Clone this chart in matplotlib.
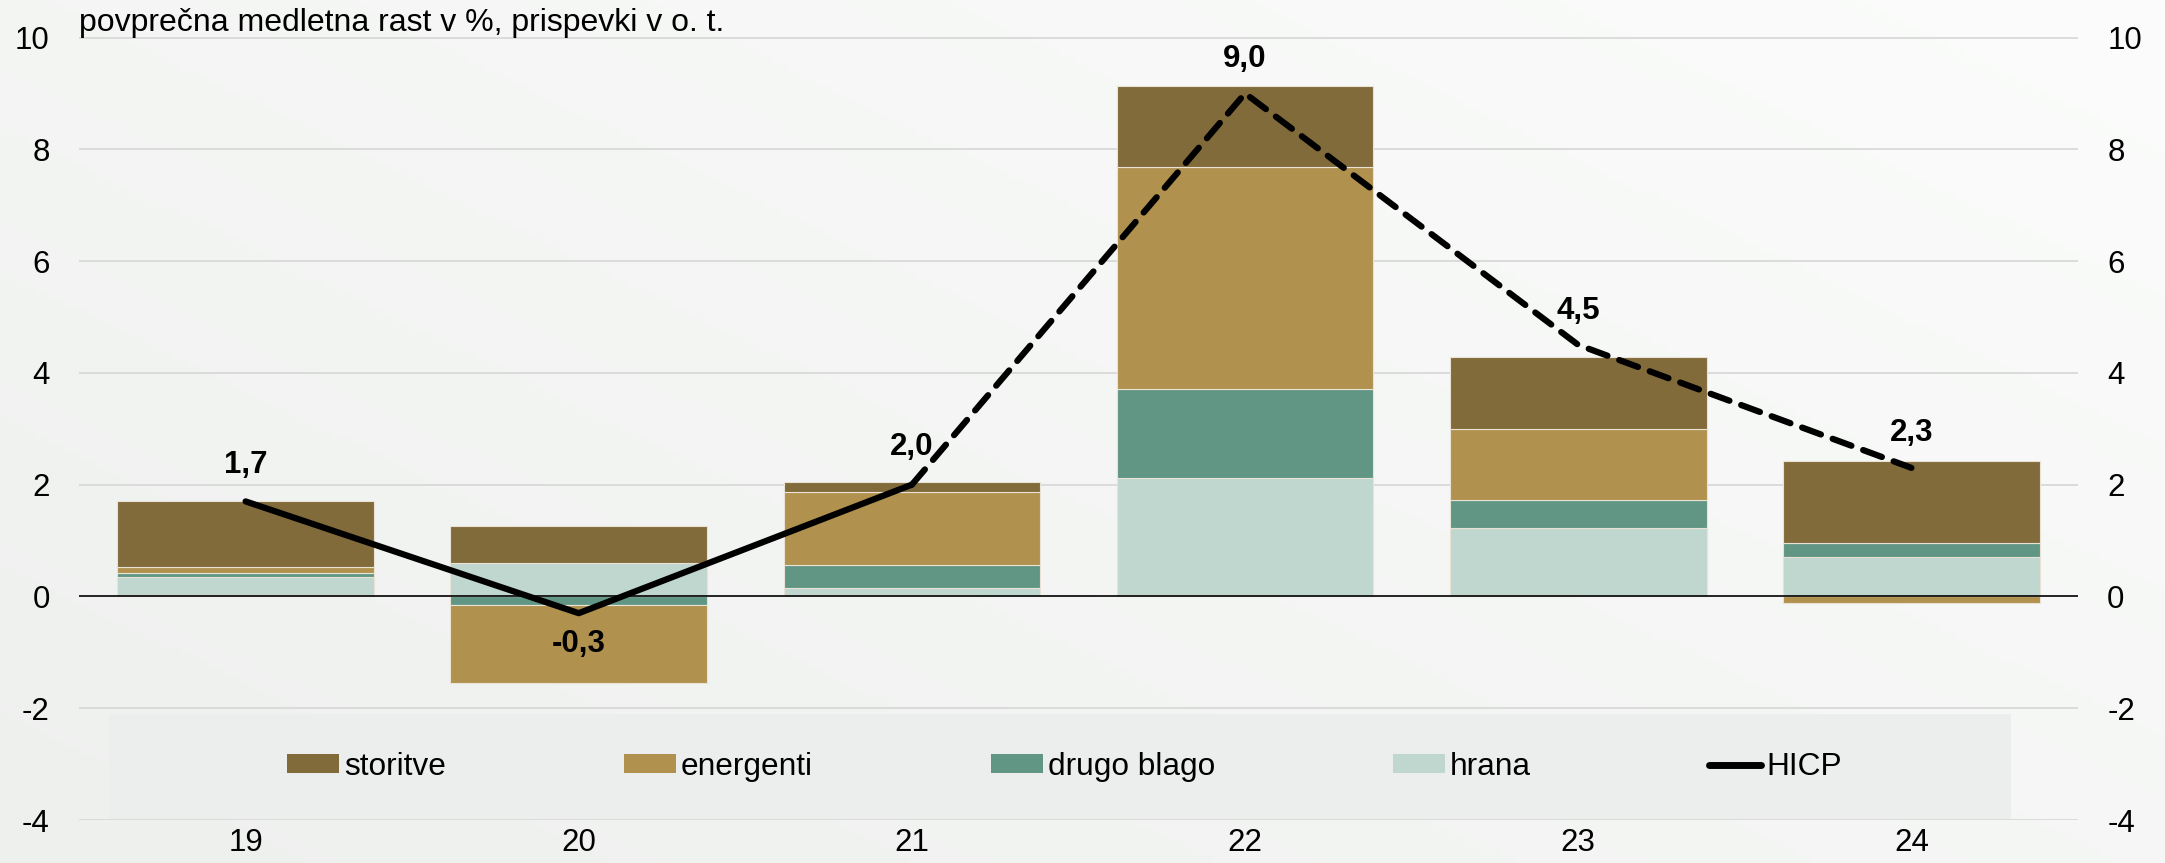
import numpy as np
import matplotlib
matplotlib.use("Agg")
import matplotlib.pyplot as plt
from matplotlib.patches import Rectangle
from matplotlib.lines import Line2D
from matplotlib.patches import Patch

plt.rcParams['font.family'] = ['Liberation Sans', 'DejaVu Sans']

years = ['19', '20', '21', '22', '23', '24']
hrana = [0.35, 0.59, 0.155, 2.11, 1.23, 0.70]
drugo_blago = [0.07, -0.16, 0.41, 1.60, 0.50, 0.255]
energenti = [0.11, -1.39, 1.30, 3.97, 1.26, -0.11]
storitve = [1.17, 0.67, 0.185, 1.45, 1.30, 1.47]
hicp = [1.7, -0.3, 2.0, 9.0, 4.5, 2.3]
hicp_labels = ['1,7', '-0,3', '2,0', '9,0', '4,5', '2,3']
yticks = [-4, -2, 0, 2, 4, 6, 8, 10]

series = [('hrana', hrana, '#bfd7cf'),
          ('drugo blago', drugo_blago, '#619684'),
          ('energenti', energenti, '#b0914e'),
          ('storitve', storitve, '#826b3a')]

W, H = 2165, 863
fig = plt.figure(figsize=(W / 100, H / 100), dpi=100)

# background gradient
bg = fig.add_axes([0, 0, 1, 1], zorder=-10)
xx, yy = np.meshgrid(np.linspace(0, 1, 300), np.linspace(0, 1, 120))
g = np.clip(0.55 * xx + 0.45 * (1 - yy), 0, 1)
c0 = np.array([0xee, 0xf0, 0xee]) / 255
c1 = np.array([0xfb, 0xfc, 0xfb]) / 255
img = c0[None, None, :] * (1 - g[..., None]) + c1[None, None, :] * g[..., None]
bg.imshow(img, aspect='auto', extent=[0, 1, 0, 1], origin='upper')
bg.axis('off')

ax = fig.add_axes([79 / W, 1 - 820 / H, 1999 / W, 782.5 / H])
ax.set_facecolor('none')
x = np.arange(len(years))
ax.set_xlim(-0.5, len(years) - 0.5)
ax.set_ylim(-4, 10)

# legend background box
ax.add_patch(Rectangle((-0.41, -3.99), 5.71, 1.88, facecolor='#eceeed',
                       edgecolor='none', zorder=0.7))

for t in yticks:
    if t != 0:
        ax.axhline(t, color='#d6d6d6', lw=1.2, zorder=0.6)
ax.axhline(0, color='black', lw=1.2, zorder=2)

pos = np.zeros(len(years))
neg = np.zeros(len(years))
for name, vals, col in series:
    v = np.array(vals)
    bottoms = np.where(v >= 0, pos, neg)
    ax.bar(x, v, bottom=bottoms, width=0.77, color=col, edgecolor='#e9e3d6',
           linewidth=0.8, zorder=1, label=name)
    pos += np.where(v >= 0, v, 0)
    neg += np.where(v < 0, v, 0)

ax.plot(x[:3], hicp[:3], color='black', lw=4.5, solid_capstyle='round', zorder=3)
ax.plot(x[2:], hicp[2:], color='black', lw=4.5, dashes=(3.2, 2.0),
        dash_capstyle='round', zorder=3)

offs = [0.65, -0.55, 0.68, 0.62, 0.6, 0.62]
for xi, v, lab, o in zip(x, hicp, hicp_labels, offs):
    ax.text(xi, v + o, lab, ha='center', va='center', fontsize=22.5,
            fontweight='bold', zorder=4)

ax.text(-0.5, 10.12, 'povprečna medletna rast v %, prispevki v o. t.',
        fontsize=23, ha='left', va='baseline', clip_on=False)

ax.set_yticks(yticks)
ax.set_yticklabels([str(t) for t in yticks])
ax.set_xticks(x)
ax.set_xticklabels(years)
ax.tick_params(axis='y', length=0, labelsize=22.5, pad=21, labelright=True)
ax.tick_params(axis='x', length=0, labelsize=22.5, pad=6)
for s in ax.spines.values():
    s.set_visible(False)

handles = [Patch(facecolor='#826b3a'), Patch(facecolor='#b0914e'),
           Patch(facecolor='#619684'), Patch(facecolor='#bfd7cf'),
           Line2D([0], [0], color='black', lw=5, solid_capstyle='round')]
labels = ['storitve', 'energenti', 'drugo blago', 'hrana', 'HICP']
ax.legend(handles, labels, loc='center', bbox_to_anchor=(0.493, 0.068), ncol=5,
          frameon=False, fontsize=22.8, handlelength=1.65, handleheight=0.52,
          handletextpad=0.15, columnspacing=5.62)

fig.savefig('out.png', dpi=100)
